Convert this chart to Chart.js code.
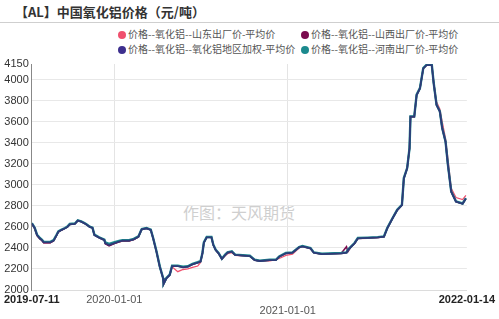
<!DOCTYPE html>
<html><head><meta charset="utf-8">
<script src="https://cdn.jsdelivr.net/npm/chart.js@4/dist/chart.umd.min.js"></script>
<style>
body{margin:0;width:499px;height:319px;position:relative;overflow:hidden;background:#fff;font-family:"Noto Sans CJK SC","Noto Sans",sans-serif;}
#title{position:absolute;left:15px;top:2px;font-size:13px;font-weight:bold;color:#333;white-space:nowrap;}
#sep{position:absolute;left:0;top:22px;width:499px;height:1px;background:#cfcfcf;}
.lg{position:absolute;font-size:10px;color:#555;white-space:nowrap;line-height:12px;}
.lg i{display:inline-block;width:8px;height:8px;border-radius:50%;margin-right:2px;vertical-align:-1px;}
#wm{position:absolute;left:183px;top:200px;font-size:16px;color:#cfcfcf;white-space:nowrap;}
canvas{position:absolute;left:0;top:0;}
</style></head>
<body>
<div id="title">【AL】中国氧化铝价格（元/吨）</div>
<div id="sep"></div>
<div class="lg" style="left:118px;top:28px"><i style="background:#f0506e"></i>价格--氧化铝--山东出厂价-平均价</div>
<div class="lg" style="left:301px;top:28px"><i style="background:#7a0b4e"></i>价格--氧化铝--山西出厂价-平均价</div>
<div class="lg" style="left:118px;top:43px"><i style="background:#3d2f8e"></i>价格--氧化铝--氧化铝地区加权-平均价</div>
<div class="lg" style="left:301px;top:43px"><i style="background:#1b8a8e"></i>价格--氧化铝--河南出厂价-平均价</div>
<div id="wm">作图：天风期货</div>
<canvas id="c" width="499" height="319"></canvas>
<script>
const startDate = '2019-07-11';
const tickDates = ['2019-07-11','2020-01-01','2021-01-01','2022-01-14'];
const yTicks = [2000,2200,2400,2600,2800,3000,3200,3400,3600,3800,4000,4150];
const dates = ['2019-07-11','2019-07-17','2019-07-22','2019-07-28','2019-08-01','2019-08-05','2019-08-19','2019-08-26','2019-09-01','2019-09-05','2019-09-11','2019-09-19','2019-09-24','2019-09-29','2019-10-10','2019-10-16','2019-10-23','2019-10-30','2019-11-04','2019-11-10','2019-11-16','2019-11-20','2019-11-30','2019-12-11','2019-12-13','2019-12-21','2019-12-31','2020-01-11','2020-01-18','2020-02-01','2020-02-11','2020-02-21','2020-02-26','2020-02-28','2020-03-09','2020-03-18','2020-03-23','2020-03-30','2020-04-06','2020-04-13','2020-04-14','2020-04-20','2020-04-27','2020-05-02','2020-05-14','2020-05-25','2020-06-04','2020-06-14','2020-06-25','2020-07-01','2020-07-05','2020-07-08','2020-07-14','2020-07-24','2020-07-28','2020-08-02','2020-08-08','2020-08-15','2020-08-22','2020-08-27','2020-09-05','2020-09-12','2020-10-13','2020-10-23','2020-11-03','2020-11-24','2020-12-07','2020-12-14','2020-12-28','2021-01-11','2021-01-25','2021-02-01','2021-02-18','2021-02-25','2021-03-14','2021-04-24','2021-05-05','2021-05-08','2021-05-15','2021-05-22','2021-05-29','2021-06-19','2021-07-10','2021-07-23','2021-07-30','2021-08-10','2021-08-20','2021-08-30','2021-09-03','2021-09-10','2021-09-15','2021-09-17','2021-09-25','2021-09-30','2021-10-07','2021-10-14','2021-10-21','2021-11-01','2021-11-05','2021-11-11','2021-11-18','2021-11-23','2021-11-30','2021-12-05','2021-12-12','2021-12-22','2022-01-05','2022-01-12'];
const shandong = [2625,2580,2515,2485,2470,2448,2448,2465,2515,2550,2568,2585,2600,2622,2630,2658,2650,2636,2622,2605,2592,2525,2500,2478,2440,2422,2440,2456,2465,2465,2478,2503,2555,2575,2585,2570,2490,2362,2220,2110,2055,2108,2140,2220,2174,2195,2200,2215,2228,2262,2340,2445,2500,2500,2425,2378,2345,2292,2325,2345,2355,2330,2320,2283,2272,2278,2290,2300,2330,2340,2400,2412,2392,2352,2340,2346,2352,2375,2408,2440,2488,2492,2498,2504,2585,2678,2758,2806,3060,3155,3345,3645,3645,3852,3915,4105,4138,4138,3980,3790,3720,3600,3440,3250,2967,2880,2860,2900];
const shanxi = [2630,2588,2520,2488,2473,2450,2450,2468,2518,2553,2568,2586,2600,2624,2632,2660,2652,2634,2620,2600,2590,2523,2496,2472,2440,2420,2440,2458,2467,2467,2480,2505,2558,2577,2587,2571,2492,2365,2222,2111,2057,2111,2143,2228,2228,2216,2222,2244,2260,2270,2349,2450,2501,2501,2428,2380,2349,2295,2333,2355,2365,2333,2323,2285,2276,2285,2285,2317,2349,2355,2406,2415,2396,2355,2342,2349,2412,2365,2412,2444,2492,2495,2500,2507,2587,2680,2760,2808,3062,3157,3347,3649,3649,3855,3918,4108,4140,4140,3966,3760,3697,3538,3411,3189,2935,2840,2820,2870];
const weighted = [2634,2590,2523,2490,2476,2453,2453,2470,2520,2555,2570,2587,2600,2625,2630,2660,2650,2634,2620,2600,2590,2523,2498,2476,2444,2428,2444,2460,2469,2469,2482,2507,2560,2577,2587,2571,2492,2365,2222,2111,2057,2111,2143,2228,2228,2216,2222,2244,2260,2270,2349,2450,2501,2501,2428,2380,2349,2295,2333,2355,2365,2333,2323,2285,2276,2285,2285,2317,2349,2355,2406,2415,2396,2355,2342,2349,2355,2380,2412,2444,2492,2495,2500,2507,2587,2680,2760,2808,3062,3157,3347,3649,3649,3855,3918,4108,4140,4140,3966,3760,3697,3538,3411,3189,2935,2840,2820,2870];
const henan = [2636,2592,2526,2494,2480,2458,2458,2474,2523,2558,2573,2590,2604,2628,2633,2662,2652,2637,2623,2603,2593,2527,2502,2480,2452,2438,2452,2468,2474,2474,2486,2510,2562,2580,2590,2574,2495,2368,2225,2114,2060,2114,2146,2232,2232,2222,2226,2248,2264,2274,2352,2453,2504,2504,2431,2383,2352,2298,2336,2358,2368,2336,2326,2288,2279,2288,2288,2320,2352,2358,2409,2418,2399,2358,2345,2352,2358,2383,2415,2447,2495,2498,2503,2510,2590,2683,2763,2811,3065,3160,3350,3652,3652,3858,3921,4111,4143,4143,3969,3763,3700,3541,3414,3192,2938,2843,2823,2873];

const DAY = 86400000;
const t0 = Date.parse(startDate);
const dayOf = s => (Date.parse(s) - t0) / DAY;
const tickDays = tickDates.map(dayOf);
const mk = arr => dates.map((d, i) => ({x: dayOf(d), y: arr[i]}));

const ds = (label, arr, color, w, order) => ({label, data: mk(arr), borderColor: color, backgroundColor: color, borderWidth: w, pointRadius: 0, tension: 0, fill: false, order});

new Chart(document.getElementById('c'), {
  type: 'line',
  data: {
    datasets: [
      ds('价格--氧化铝--山东出厂价-平均价', shandong, '#f0506e', 1.3, 4),
      ds('价格--氧化铝--山西出厂价-平均价', shanxi, '#7a0b4e', 1.5, 3),
      ds('价格--氧化铝--河南出厂价-平均价', henan, '#1b8a8e', 2.4, 2),
      ds('价格--氧化铝--氧化铝地区加权-平均价', weighted, '#2e3a78', 1.8, 1)
    ]
  },
  options: {
    responsive: false,
    animation: false,
    layout: {padding: {top: 64, right: 28, left: 0, bottom: 0}},
    plugins: {legend: {display: false}, tooltip: {enabled: false}},
    scales: {
      x: {
        type: 'linear',
        min: tickDays[0], max: tickDays[tickDays.length - 1],
        afterBuildTicks: s => { s.ticks = tickDays.map(v => ({value: v})); },
        afterFit: s => { s.height = 29; },
        grid: {drawTicks: false, color: c => (c.index === 1 || c.index === 2) ? '#e4e4e4' : 'rgba(0,0,0,0)'},
        border: {display: true, color: '#dcdcdc'},
        ticks: {
          autoSkip: false, maxRotation: 0, padding: 4,
          color: c => (c.index === 0 || c.index === 3) ? '#222' : '#555',
          font: c => ({family: 'Liberation Sans', size: 11, weight: (c.index === 0 || c.index === 3) ? 'bold' : 'normal', lineHeight: 1}),
          callback: (v, i) => i === 2 ? ['', tickDates[i]] : tickDates[i]
        }
      },
      y: {
        min: 2000, max: 4150,
        afterBuildTicks: s => { s.ticks = yTicks.map(v => ({value: v})); },
        afterFit: s => { s.width = 28; },
        grid: {drawTicks: false, color: c => c.index === yTicks.length - 1 ? 'rgba(0,0,0,0)' : '#e8e8e8'},
        border: {display: true, color: '#888'},
        ticks: {padding: 3, color: '#333', font: {family: 'Liberation Sans', size: 11}, callback: v => String(v)}
      }
    }
  }
});
</script>
</body></html>
